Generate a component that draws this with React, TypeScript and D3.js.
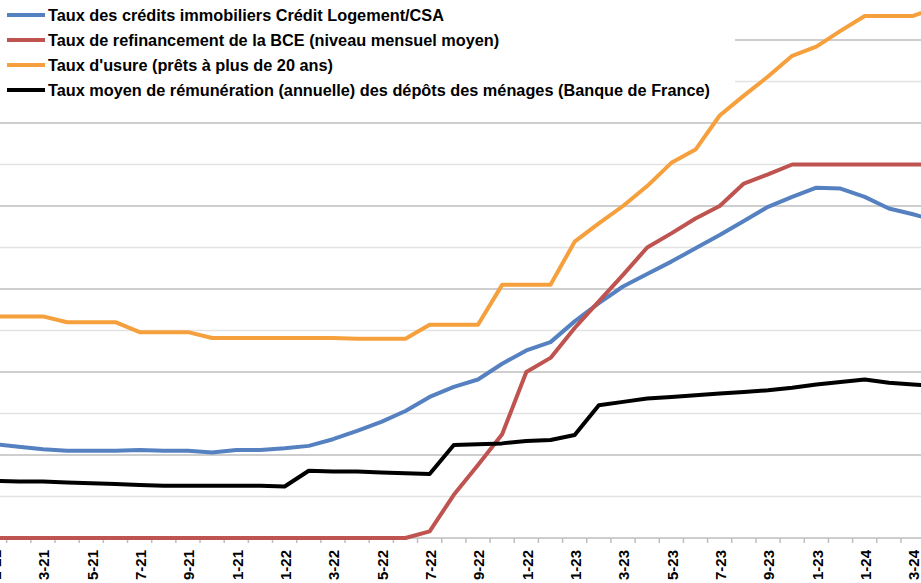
import React from "react";
import * as d3 from "d3";

const months: string[] = [
  "01-21","02-21","03-21","04-21","05-21","06-21","07-21","08-21","09-21","10-21","11-21","12-21",
  "01-22","02-22","03-22","04-22","05-22","06-22","07-22","08-22","09-22","10-22","11-22","12-22",
  "01-23","02-23","03-23","04-23","05-23","06-23","07-23","08-23","09-23","10-23","11-23","12-23",
  "01-24","02-24","03-24","04-24",
];

// Tick labels as they are visible in the (cropped) reference, every second month
const tickLabels: string[] = [
  "1-21", "3-21", "5-21", "7-21", "9-21", "1-21",
  "1-22", "3-22", "5-22", "7-22", "9-22", "1-22",
  "1-23", "3-23", "5-23", "7-23", "9-23", "1-23",
  "1-24", "3-24",
];

const creditLogement: number[] = [
  1.13, 1.10, 1.07, 1.05, 1.05, 1.05, 1.06, 1.05, 1.05, 1.03, 1.06, 1.06,
  1.08, 1.11, 1.19, 1.29, 1.40, 1.53, 1.70, 1.82, 1.91, 2.10, 2.26, 2.36,
  2.61, 2.83, 3.03, 3.18, 3.33, 3.49, 3.65, 3.82, 3.99, 4.11, 4.22, 4.21,
  4.11, 3.97, 3.90, 3.82,
];

const bce: number[] = [
  0, 0, 0, 0, 0, 0, 0, 0, 0, 0, 0, 0,
  0, 0, 0, 0, 0, 0, 0.08, 0.52, 0.88, 1.25, 2.0, 2.17,
  2.53, 2.85, 3.17, 3.5, 3.67, 3.85, 4.0, 4.27, 4.38, 4.5, 4.5, 4.5,
  4.5, 4.5, 4.5, 4.5,
];

const usure: number[] = [
  2.67, 2.67, 2.67, 2.60, 2.60, 2.60, 2.48, 2.48, 2.48, 2.41, 2.41, 2.41,
  2.41, 2.41, 2.41, 2.40, 2.40, 2.40, 2.57, 2.57, 2.57, 3.05, 3.05, 3.05,
  3.57, 3.79, 4.00, 4.24, 4.52, 4.68, 5.09, 5.33, 5.56, 5.81, 5.92, 6.11,
  6.29, 6.29, 6.29, 6.39,
];

const depots: number[] = [
  0.69, 0.68, 0.68, 0.67, 0.66, 0.65, 0.64, 0.63, 0.63, 0.63, 0.63, 0.63,
  0.62, 0.81, 0.80, 0.80, 0.79, 0.78, 0.77, 1.12, 1.13, 1.14, 1.17, 1.18,
  1.24, 1.60, 1.64, 1.68, 1.70, 1.72, 1.74, 1.76, 1.78, 1.81, 1.85, 1.88,
  1.91, 1.87, 1.85, 1.83,
];

const seriesNames: string[] = [
  "Taux des crédits immobiliers Crédit Logement/CSA",
  "Taux de refinancement de la BCE (niveau mensuel moyen)",
  "Taux d'usure (prêts à plus de 20 ans)",
  "Taux moyen de rémunération (annuelle) des dépôts des ménages (Banque de France)",
];

const seriesColors: string[] = ["#5581C1", "#BE534F", "#F5A03C", "#000000"];

const gridValues: number[] = d3.range(0.5, 6.51, 0.5);

const W = 921;
const H = 583;

export default function App() {
  const bw = 24.17;
  const x = d3
    .scaleBand<string>()
    .domain(months)
    .range([-17.5, -17.5 + bw * months.length])
    .paddingInner(0)
    .paddingOuter(0);
  const y = d3.scaleLinear().domain([0, 6.5]).range([538, 538 - 6.5 * 83.0]);
  const cx = (i: number) => (x(months[i]) as number) + x.bandwidth() / 2;

  const line = d3
    .line<number>()
    .x((_, i) => cx(i))
    .y((d) => y(d));

  const allSeries = [creditLogement, bce, usure, depots];
  const drawOrder = [2, 0, 1, 3];

  return (
    <svg
      width={W}
      height={H}
      style={{ position: "absolute", left: 0, top: 0, background: "#fff", fontFamily: "'Liberation Sans', Arial, sans-serif" }}
    >
      <rect x={0} y={0} width={W} height={H} fill="#fff" />
      {gridValues.map((v) => {
        const major = Math.abs(v - Math.round(v)) < 1e-6;
        return (
          <line
            key={v}
            x1={0}
            x2={W}
            y1={y(v)}
            y2={y(v)}
            stroke={major ? "#BEBEBE" : "#E3E3E3"}
            strokeWidth={1.5}
          />
        );
      })}
      <line x1={0} x2={W} y1={y(0)} y2={y(0)} stroke="#BEBEBE" strokeWidth={1.5} />
      {months.map((m) => (
        <line
          key={"t" + m}
          x1={x(m) as number}
          x2={x(m) as number}
          y1={y(0)}
          y2={y(0) + 5}
          stroke="#BEBEBE"
          strokeWidth={1.5}
        />
      ))}
      {tickLabels.map((lab, k) => (
        <text
          key={"l" + k}
          transform={`translate(${cx(k * 2) + 1},${550}) rotate(-90)`}
          textAnchor="end"
          dy="0.36em"
          fontSize={15}
          fontWeight="bold"
          fill="#000"
        >
          {lab}
        </text>
      ))}
      {drawOrder.map((k) => (
        <path
          key={"s" + k}
          d={line(allSeries[k]) || ""}
          fill="none"
          stroke={seriesColors[k]}
          strokeWidth={4}
          strokeLinejoin="round"
          strokeLinecap="round"
        />
      ))}
      <rect x={0} y={0} width={735} height={100} fill="#fff" />
      {seriesNames.map((n, i) => {
        const ly = 15 + i * 25;
        return (
          <g key={"leg" + i}>
            <line x1={7} x2={45} y1={ly} y2={ly} stroke={seriesColors[i]} strokeWidth={4} />
            <text x={48} y={ly + 6} fontSize={16.3} fontWeight="bold" fill="#000">
              {n}
            </text>
          </g>
        );
      })}
    </svg>
  );
}
